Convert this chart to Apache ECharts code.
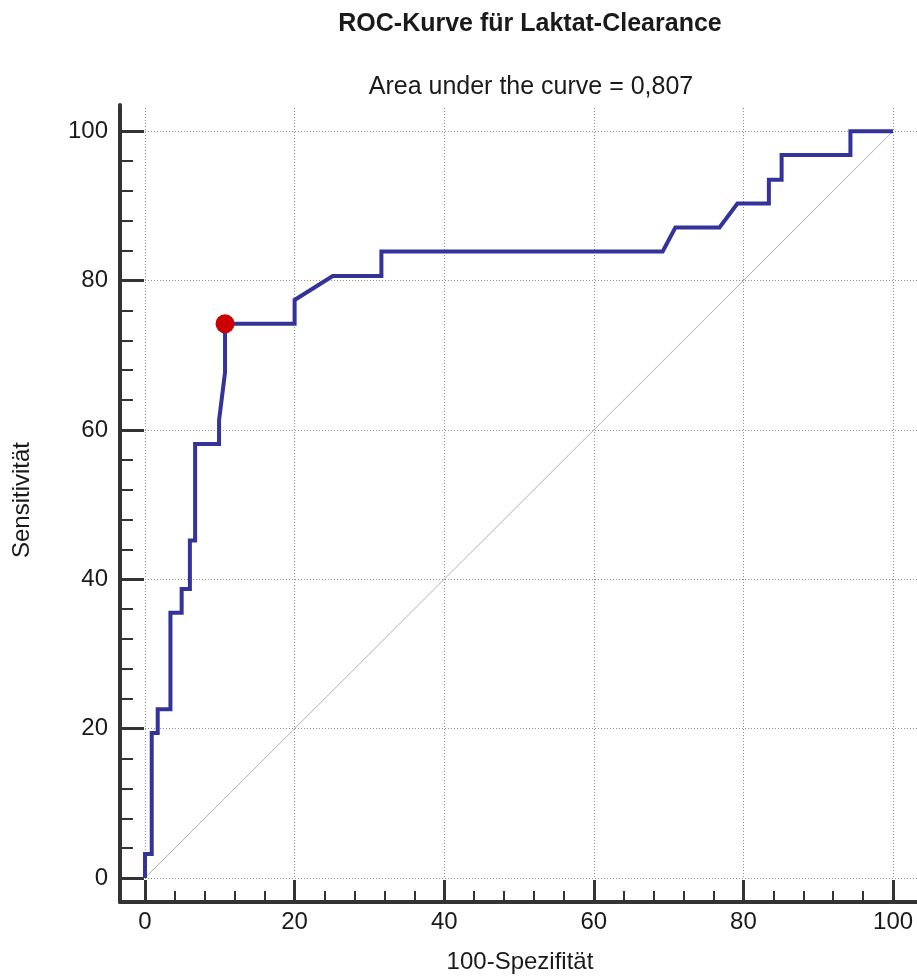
<!DOCTYPE html>
<html>
<head>
<meta charset="utf-8">
<title>ROC-Kurve für Laktat-Clearance</title>
<script src="https://cdn.jsdelivr.net/npm/echarts@6/dist/echarts.min.js"></script>
<style>
  html, body { margin: 0; padding: 0; background: #ffffff; }
  #chart { width: 917px; height: 979px; }
</style>
</head>
<body>
<div id="chart"></div>
<script>
// ROC curve: 100-specificity (x) against sensitivity (y), both in percent
const rocFpr  = [0, 0, 0.9, 0.9, 1.7, 1.7, 3.4, 3.4, 4.9, 4.9, 6.0, 6.0, 6.7, 6.7, 9.9, 9.9, 10.7, 10.7, 20.0, 20.0, 25.1, 31.6, 31.6, 69.2, 70.9, 76.8, 79.2, 83.4, 83.4, 85.1, 85.1, 94.3, 94.3, 100];
const rocSens = [0, 3.2, 3.2, 19.4, 19.4, 22.6, 22.6, 35.5, 35.5, 38.7, 38.7, 45.2, 45.2, 58.1, 58.1, 61.3, 67.7, 74.2, 74.2, 77.4, 80.6, 80.6, 83.9, 83.9, 87.1, 87.1, 90.3, 90.3, 93.5, 93.5, 96.8, 96.8, 100, 100];

// Optimal cut-off (Youden criterion)
const cutoffFpr = 10.7;
const cutoffSens = 74.2;

// Chance line
const chanceFpr = [0, 100];
const chanceSens = [0, 100];

const xTickValues = [0, 20, 40, 60, 80, 100];
const yTickValues = [0, 20, 40, 60, 80, 100];

const titleText = 'ROC-Kurve für Laktat-Clearance';
const aucText = 'Area under the curve = 0,807';
const xName = '100-Spezifität';
const yName = 'Sensitivität';

const FONT = '"Liberation Sans", Arial, Helvetica, sans-serif';
const INK = '#1a1a1a';
const AXIS = '#333333';

const zip = (xs, ys) => xs.map((x, i) => [x, ys[i]]);

const chart = echarts.init(document.getElementById('chart'), null, { renderer: 'canvas' });

const option = {
  backgroundColor: '#ffffff',
  animation: false,
  title: [
    {
      text: titleText,
      left: 525, top: 7, textAlign: 'center',
      textStyle: { fontFamily: FONT, fontSize: 25, fontWeight: 'bold', color: INK }
    },
    {
      text: aucText,
      left: 526, top: 70, textAlign: 'center',
      textStyle: { fontFamily: FONT, fontSize: 25, fontWeight: 'normal', color: INK }
    }
  ],
  grid: [
    // plotting area (extends a little past 100 on both axes)
    { left: 145, right: 0, top: 108, bottom: 100, containLabel: false },
    // L-shaped frame for the detached axis lines
    { left: 120, right: 0, top: 105, bottom: 77, containLabel: false }
  ],
  xAxis: [
    {
      gridIndex: 0, type: 'value', min: 0, max: 103.2, interval: 20,
      position: 'bottom', offset: 23,
      name: xName, nameLocation: 'middle', nameGap: 49,
      nameTextStyle: { fontFamily: FONT, fontSize: 24, color: INK, padding: [0, 22, 0, 0] },
      axisLine: { show: false, onZero: false },
      axisTick: { show: true, inside: true, length: 21, customValues: xTickValues,
                  lineStyle: { color: AXIS, width: 3 } },
      minorTick: { show: true, splitNumber: 5, length: 10, lineStyle: { color: AXIS, width: 2 } },
      axisLabel: { show: true, margin: 9, customValues: xTickValues,
                   fontFamily: FONT, fontSize: 24, color: INK },
      splitLine: { show: true, lineStyle: { color: '#8f8f8f', width: 1, type: [1, 2] } },
      minorSplitLine: { show: false }
    },
    {
      gridIndex: 1, type: 'value', min: 0, max: 1,
      axisLine: { show: true, onZero: false, lineStyle: { color: AXIS, width: 4 } },
      axisTick: { show: false }, axisLabel: { show: false }, splitLine: { show: false }
    }
  ],
  yAxis: [
    {
      gridIndex: 0, type: 'value', min: 0, max: 103.1, interval: 20,
      position: 'left', offset: 25,
      name: yName, nameLocation: 'middle', nameGap: 86,
      nameTextStyle: { fontFamily: FONT, fontSize: 24, color: INK, padding: [0, 14, 0, 0] },
      axisLine: { show: false, onZero: false },
      axisTick: { show: true, inside: true, length: 24, customValues: yTickValues,
                  lineStyle: { color: AXIS, width: 3 } },
      minorTick: { show: true, splitNumber: 5, length: 13, lineStyle: { color: AXIS, width: 2 } },
      axisLabel: { show: true, margin: 12, customValues: yTickValues,
                   fontFamily: FONT, fontSize: 24, color: INK },
      splitLine: { show: true, lineStyle: { color: '#8f8f8f', width: 1, type: [1, 2] } },
      minorSplitLine: { show: false }
    },
    {
      gridIndex: 1, type: 'value', min: 0, max: 1,
      axisLine: { show: true, onZero: false, lineStyle: { color: AXIS, width: 4 } },
      axisTick: { show: false }, axisLabel: { show: false }, splitLine: { show: false }
    }
  ],
  series: [
    {
      name: 'chance',
      type: 'line',
      xAxisIndex: 0, yAxisIndex: 0,
      data: zip(chanceFpr, chanceSens),
      symbol: 'none',
      silent: true,
      lineStyle: { color: '#b0b0b0', width: 1 },
      z: 2
    },
    {
      name: 'ROC',
      type: 'line',
      xAxisIndex: 0, yAxisIndex: 0,
      data: zip(rocFpr, rocSens),
      symbol: 'none',
      lineStyle: { color: '#333399', width: 4, join: 'miter', cap: 'butt' },
      z: 3
    },
    {
      name: 'cutoff',
      type: 'scatter',
      xAxisIndex: 0, yAxisIndex: 0,
      data: [[cutoffFpr, cutoffSens]],
      symbol: 'circle',
      symbolSize: 19,
      itemStyle: { color: '#cc0000', opacity: 1 },
      z: 4
    }
  ]
};

chart.setOption(option);
</script>
</body>
</html>
